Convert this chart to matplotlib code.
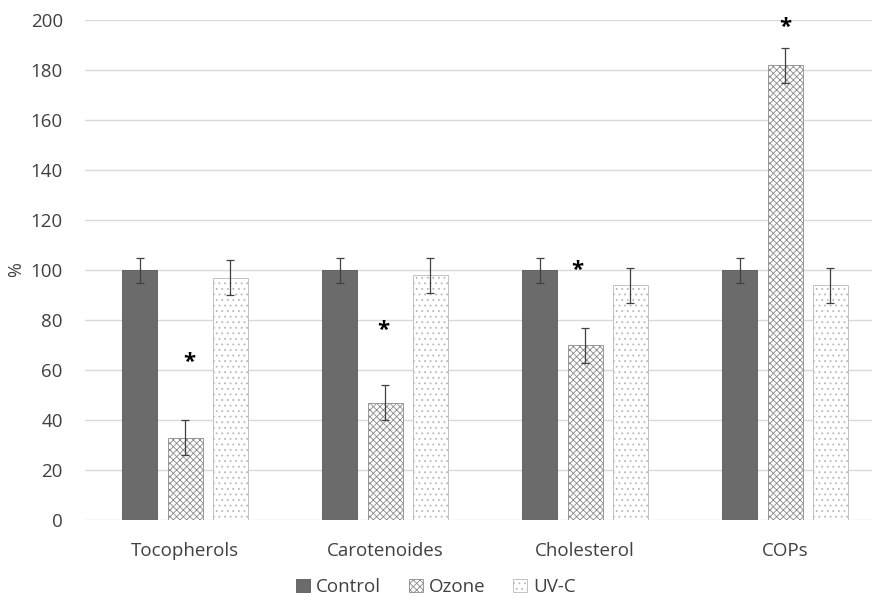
import matplotlib.pyplot as plt
import numpy as np

plt.rcParams['font.family'] = ['Open Sans', 'DejaVu Sans']
plt.rcParams['hatch.linewidth'] = 0.6

categories = ['Tocopherols', 'Carotenoides', 'Cholesterol', 'COPs']
control = [100, 100, 100, 100]
control_err = [5, 5, 5, 5]
ozone = [33, 47, 70, 182]
ozone_err = [7, 7, 7, 7]
uvc = [97, 98, 94, 94]
uvc_err = [7, 7, 7, 7]
# asterisk positions (x offset in category units, y in %)
star_x = [0.02, -0.01, -0.04, 0.0]
star_y = [63, 76, 100, 197]

fig = plt.figure(figsize=(8.72, 5.96), dpi=100)
ax = fig.add_axes([85 / 872, 76 / 596, 800 / 872, 500 / 596])

x = np.arange(len(categories))
w = 0.175
off = 0.226
ekw = dict(ecolor='#404040', elinewidth=0.9, capsize=3, capthick=0.9)

ax.bar(x - off, control, w, yerr=control_err, color='#6b6b6b', edgecolor='#5a5a5a',
       linewidth=0.6, label='Control', error_kw=ekw, zorder=2)
ax.bar(x, ozone, w, yerr=ozone_err, color='white', edgecolor='#8a8a8a', hatch='xxxxx',
       linewidth=0.6, label='Ozone', error_kw=ekw, zorder=2)
ax.bar(x + off, uvc, w, yerr=uvc_err, color='white', edgecolor='#b8b8b8', hatch='...',
       linewidth=0.6, label='UV-C', error_kw=ekw, zorder=2)

for i in range(len(categories)):
    ax.text(x[i] + star_x[i], star_y[i], '*', ha='center', va='center',
            fontsize=16, fontweight='bold', color='black')

ax.set_xlim(-0.5, 3.5)
ax.set_ylim(0, 200)
ax.set_yticks(range(0, 201, 20))
ax.set_xticks(x)
ax.set_xticklabels(categories)
ax.tick_params(axis='both', length=0, labelsize=13.5, colors='#404040')
ax.tick_params(axis='x', pad=16)
ax.tick_params(axis='y', pad=16)
ax.grid(axis='y', color='#d9d9d9', linewidth=1, zorder=0)
ax.set_axisbelow(True)
for s in ax.spines.values():
    s.set_visible(False)
ax.set_ylabel('%', fontsize=13, color='#404040', labelpad=4)

fig.legend(loc='center', bbox_to_anchor=(0.5, 1 - 587 / 596), ncol=3, frameon=False,
           fontsize=13.5, handlelength=0.75, handleheight=0.75, handletextpad=0.3,
           columnspacing=1.5, labelcolor='#404040', borderpad=0)

fig.savefig('out.png', dpi=100)
